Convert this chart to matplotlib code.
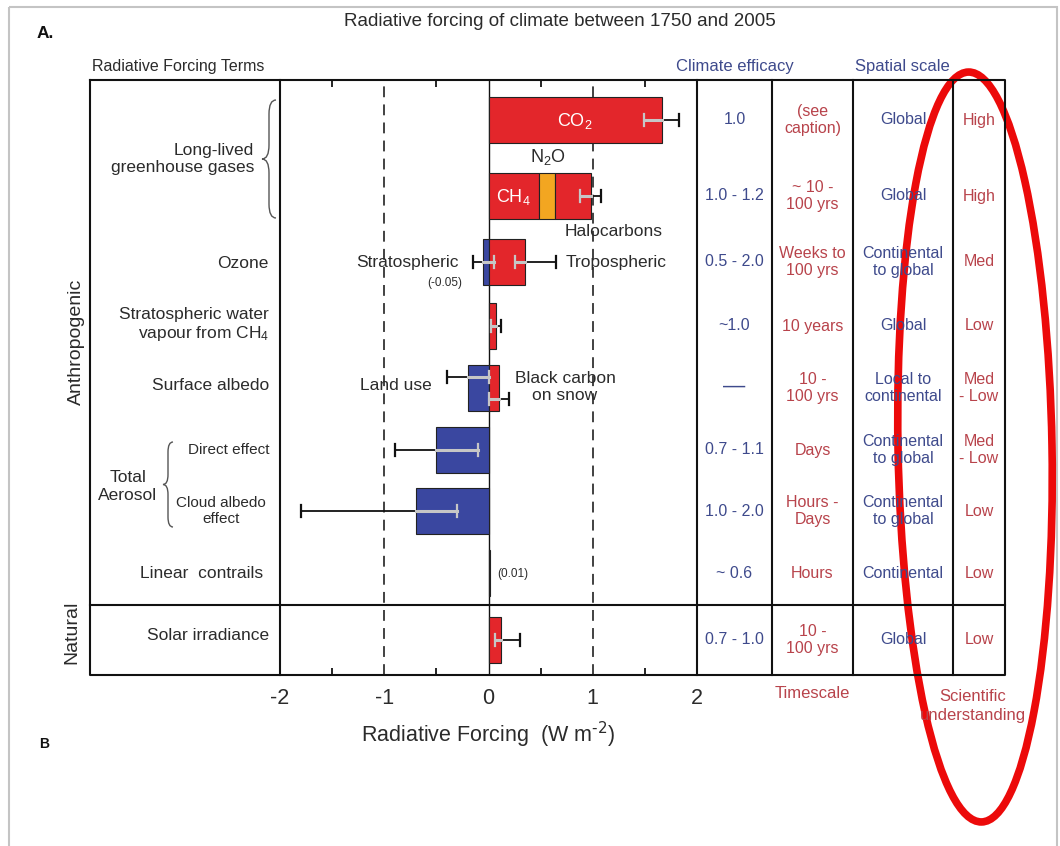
import matplotlib
matplotlib.use("Agg")
import matplotlib.pyplot as plt
from matplotlib.patches import Ellipse, PathPatch, Rectangle
from matplotlib.path import Path

plt.rcParams['font.family'] = ['Liberation Sans', 'DejaVu Sans']
plt.rcParams['mathtext.default'] = 'regular'
plt.rcParams['axes.unicode_minus'] = False

# ------------------------------ data ---------------------------------------
# forcing terms (W m-2), row index = line of the table
bar_name = ["CO2", "CH4", "N2O", "Halocarbons", "Strat O3", "Trop O3", "Strat H2O",
            "Land use", "BC on snow", "Direct", "Cloud albedo", "Contrails", "Solar"]
bar_value = [1.66, 0.48, 0.16, 0.34, -0.05, 0.35, 0.07, -0.20, 0.10, -0.50, -0.70, 0.01, 0.12]
bar_row = [0, 1, 1, 1, 2, 2, 3, 4, 4, 5, 6, 7, 8]

# uncertainty ranges
err_row = [0, 1, 2, 2, 3, 4, 4, 5, 6, 8]
err_lo = [1.49, 0.88, -0.15, 0.25, 0.02, -0.40, 0.00, -0.90, -1.80, 0.06]
err_hi = [1.83, 1.08, 0.05, 0.65, 0.12, 0.00, 0.20, -0.10, -0.30, 0.30]

efficacy = ["1.0", "1.0 - 1.2", "0.5 - 2.0", "~1.0", "\u2014", "0.7 - 1.1", "1.0 - 2.0", "~ 0.6", "0.7 - 1.0"]
timescale = ["(see\ncaption)", "~ 10 -\n100 yrs", "Weeks to\n100 yrs", "10 years", "10 -\n100 yrs",
             "Days", "Hours -\nDays", "Hours", "10 -\n100 yrs"]
spatial = ["Global", "Global", "Continental\nto global", "Global", "Local to\ncontinental",
           "Continental\nto global", "Continental\nto global", "Continental", "Global"]
understanding = ["High", "High", "Med", "Low", "Med\n- Low", "Med\n- Low", "Low", "Low", "Low"]

xticks = [-2, -1, 0, 1, 2]

# ------------------------------ layout (pixels) -----------------------------
W, H = 1060, 846
row_y = [120, 196, 262, 326, 388, 450, 511, 573, 640]
err_dy = [0, 0, 0, 0, 0, -11, 11, 0, 0, 0]
bar_h = 46
tab_l, tab_r, tab_t, tab_b = 90, 1005, 80, 675
col_x = [280, 697, 772, 853, 953]
nat_y = 605
x0_px, x1_px = 280, 697

RED = '#e3262b'
BLUE = '#3a47a0'
ORANGE = '#f3a621'
TXT = '#2b2b2b'
CBLUE = '#3e4a8c'
CRED = '#b8434b'
bar_color = {"CO2": RED, "CH4": RED, "N2O": ORANGE, "Halocarbons": RED, "Strat O3": BLUE,
             "Trop O3": RED, "Strat H2O": RED, "Land use": BLUE, "BC on snow": RED,
             "Direct": BLUE, "Cloud albedo": BLUE, "Contrails": '#222222', "Solar": RED}

fig = plt.figure(figsize=(W / 100, H / 100), dpi=100)
fig.patch.set_facecolor('white')

ax = fig.add_axes([x0_px / W, 1 - tab_b / H, (x1_px - x0_px) / W, (tab_b - tab_t) / H])
ax.set_xlim(-2, 2)
ax.set_ylim(tab_b, tab_t)
for s in ax.spines.values():
    s.set_visible(False)
ax.set_yticks([])
ax.set_xticks(xticks)
ax.set_xticklabels([str(t) for t in xticks], fontsize=15.5, color=TXT)
ax.set_xticks([-1.5, -0.5, 0.5, 1.5], minor=True)
ax.tick_params(axis='x', which='major', length=0, pad=9)
ax.tick_params(axis='x', which='minor', length=5, width=1.2, direction='in', top=True, bottom=True)
ax.set_xlabel(r"Radiative Forcing  (W m$^{\text{-2}}$)", fontsize=15.5, color=TXT, labelpad=8)

ax.axvline(0, color='#111111', lw=1.0, zorder=1)
for xv in (-1, 1):
    ax.axvline(xv, color='#333333', lw=1.3, ls=(0, (6, 4)), zorder=0)

# stacked bars
pos_sum = {}
neg_sum = {}
for name, v, r in zip(bar_name, bar_value, bar_row):
    if v >= 0:
        left = pos_sum.get(r, 0.0)
        pos_sum[r] = left + v
    else:
        left = neg_sum.get(r, 0.0)
        neg_sum[r] = left + v
    ax.barh(row_y[r], v, left=left, height=bar_h, color=bar_color[name],
            edgecolor='#222222', linewidth=0.8, zorder=2)

# error bars: grey where they lie over a bar, black outside
for r, lo, hi, dy in zip(err_row, err_lo, err_hi, err_dy):
    y = row_y[r] + dy
    blo, bhi = neg_sum.get(r, 0.0), pos_sum.get(r, 0.0)
    ax.plot([lo, hi], [y, y], color='#111111', lw=1.3, zorder=3)
    glo, ghi = max(lo, blo), min(hi, bhi)
    if ghi > glo:
        ax.plot([glo, ghi], [y, y], color='#c6c6c6', lw=2.2, zorder=4)
    for xc in (lo, hi):
        c = '#c6c6c6' if blo < xc < bhi else '#111111'
        ax.plot([xc, xc], [y - 6, y + 6], color=c, lw=1.6, zorder=4)

# ------------------------------ overlay (pixel coords) ----------------------
ov = fig.add_axes([0, 0, 1, 1], zorder=5)
ov.set_xlim(0, W)
ov.set_ylim(H, 0)
ov.axis('off')

ov.add_patch(Rectangle((9, 7), W - 12, H + 10, fill=False, edgecolor='#c4c4c4', lw=1.5))

lw_t = 1.5
ov.plot([tab_l, tab_r, tab_r, tab_l, tab_l], [tab_t, tab_t, tab_b, tab_b, tab_t], color='#111111', lw=lw_t)
for cx in col_x:
    ov.plot([cx, cx], [tab_t, tab_b], color='#111111', lw=lw_t)
ov.plot([tab_l, tab_r], [nat_y, nat_y], color='#111111', lw=lw_t)

ov.text(45, 34, "A.", fontsize=12.5, fontweight='bold', ha='center', va='center', color='#111111')
ov.text(44, 744, "B", fontsize=10, fontweight='bold', ha='center', va='center', color='#111111')
ov.text(560, 22, "Radiative forcing of climate between 1750 and 2005", fontsize=13.5,
        ha='center', va='center', color=TXT)
ov.text(92, 66, "Radiative Forcing Terms", fontsize=11.5, ha='left', va='center', color=TXT)
ov.text(735, 67, "Climate efficacy", fontsize=12, ha='center', va='center', color=CBLUE)
ov.text(902, 67, "Spatial scale", fontsize=12, ha='center', va='center', color=CBLUE)
ov.text(812, 694, "Timescale", fontsize=12, ha='center', va='center', color=CRED)
ov.text(973, 706, "Scientific\nunderstanding", fontsize=12, ha='center', va='center',
        color=CRED, linespacing=1.3)

ov.text(76, 342, "Anthropogenic", fontsize=14, rotation=90, ha='center', va='center', color=TXT)
ov.text(72, 632, "Natural", fontsize=14, rotation=90, ha='center', va='center', color=TXT)


def brace(x, y0, y1, w):
    ym = (y0 + y1) / 2
    xm = x + w / 2
    verts = [(x + w, y0), (xm, y0), (xm, y0 + w), (xm, ym - w), (xm, ym), (x, ym),
             (xm, ym), (xm, ym + w), (xm, y1 - w), (xm, y1), (x + w, y1)]
    codes = [Path.MOVETO, Path.CURVE3, Path.CURVE3, Path.LINETO, Path.CURVE3, Path.CURVE3,
             Path.CURVE3, Path.CURVE3, Path.LINETO, Path.CURVE3, Path.CURVE3]
    ov.add_patch(PathPatch(Path(verts, codes), fill=False, edgecolor='#555555', lw=1.0))


brace(262, 100, 218, 14)
brace(163, 442, 527, 10)

lab = dict(fontsize=12.5, color=TXT, va='center')
ov.text(254, 159, "Long-lived\ngreenhouse gases", ha='right', linespacing=1.2, **lab)
ov.text(269, 263, "Ozone", ha='right', **lab)
ov.text(269, 325, "Stratospheric water\nvapour from CH$_4$", ha='right', linespacing=1.2, **lab)
ov.text(269, 386, "Surface albedo", ha='right', **lab)
ov.text(269, 450, "Direct effect", ha='right', fontsize=11, color=TXT, va='center')
ov.text(221, 511, "Cloud albedo\neffect", ha='center', fontsize=11, color=TXT, va='center', linespacing=1.2)
ov.text(128, 487, "Total\nAerosol", ha='center', linespacing=1.25, **lab)
ov.text(263, 573, "Linear  contrails", ha='right', **lab)
ov.text(269, 635, "Solar irradiance", ha='right', **lab)

# labels inside / near the bars
ov.text(575, 121, "CO$_2$", fontsize=13, color='white', ha='center', va='center')
ov.text(513, 197, "CH$_4$", fontsize=13, color='white', ha='center', va='center')
ov.text(548, 157, "N$_2$O", fontsize=13, color=TXT, ha='center', va='center')
ov.text(614, 232, "Halocarbons", fontsize=12.5, color=TXT, ha='center', va='center')
ov.text(459, 262, "Stratospheric", ha='right', **lab)
ov.text(445, 283, "(-0.05)", fontsize=8.5, color=TXT, ha='center', va='center')
ov.text(566, 262, "Tropospheric", ha='left', **lab)
ov.text(432, 386, "Land use", ha='right', **lab)
ov.text(565, 387, "Black carbon\non snow", ha='center', linespacing=1.15, **lab)
ov.text(497, 574, "(0.01)", fontsize=8.5, color=TXT, ha='left', va='center')

# table columns
col_c = [(697 + 772) / 2, (772 + 853) / 2, (853 + 953) / 2, (953 + 1005) / 2]
cfs = 11.5
for i, y in enumerate(row_y):
    if efficacy[i] == "\u2014":
        ov.text(col_c[0], y - 2, efficacy[i], fontsize=16, color=CBLUE, ha='center', va='center')
    else:
        ov.text(col_c[0], y, efficacy[i], fontsize=cfs, color=CBLUE, ha='center', va='center')
    ov.text(col_c[1], y, timescale[i], fontsize=cfs, color=CRED, ha='center', va='center', linespacing=1.15)
    ov.text(col_c[2], y, spatial[i], fontsize=cfs, color=CBLUE, ha='center', va='center', linespacing=1.15)
    ov.text(col_c[3], y, understanding[i], fontsize=cfs, color=CRED, ha='center', va='center', linespacing=1.15)

# hand drawn highlight
ov.add_patch(Ellipse((975, 447), 154, 750, angle=-1, fill=False, edgecolor='#ec0a0a', lw=5.5))

fig.savefig("out.png", dpi=100)
